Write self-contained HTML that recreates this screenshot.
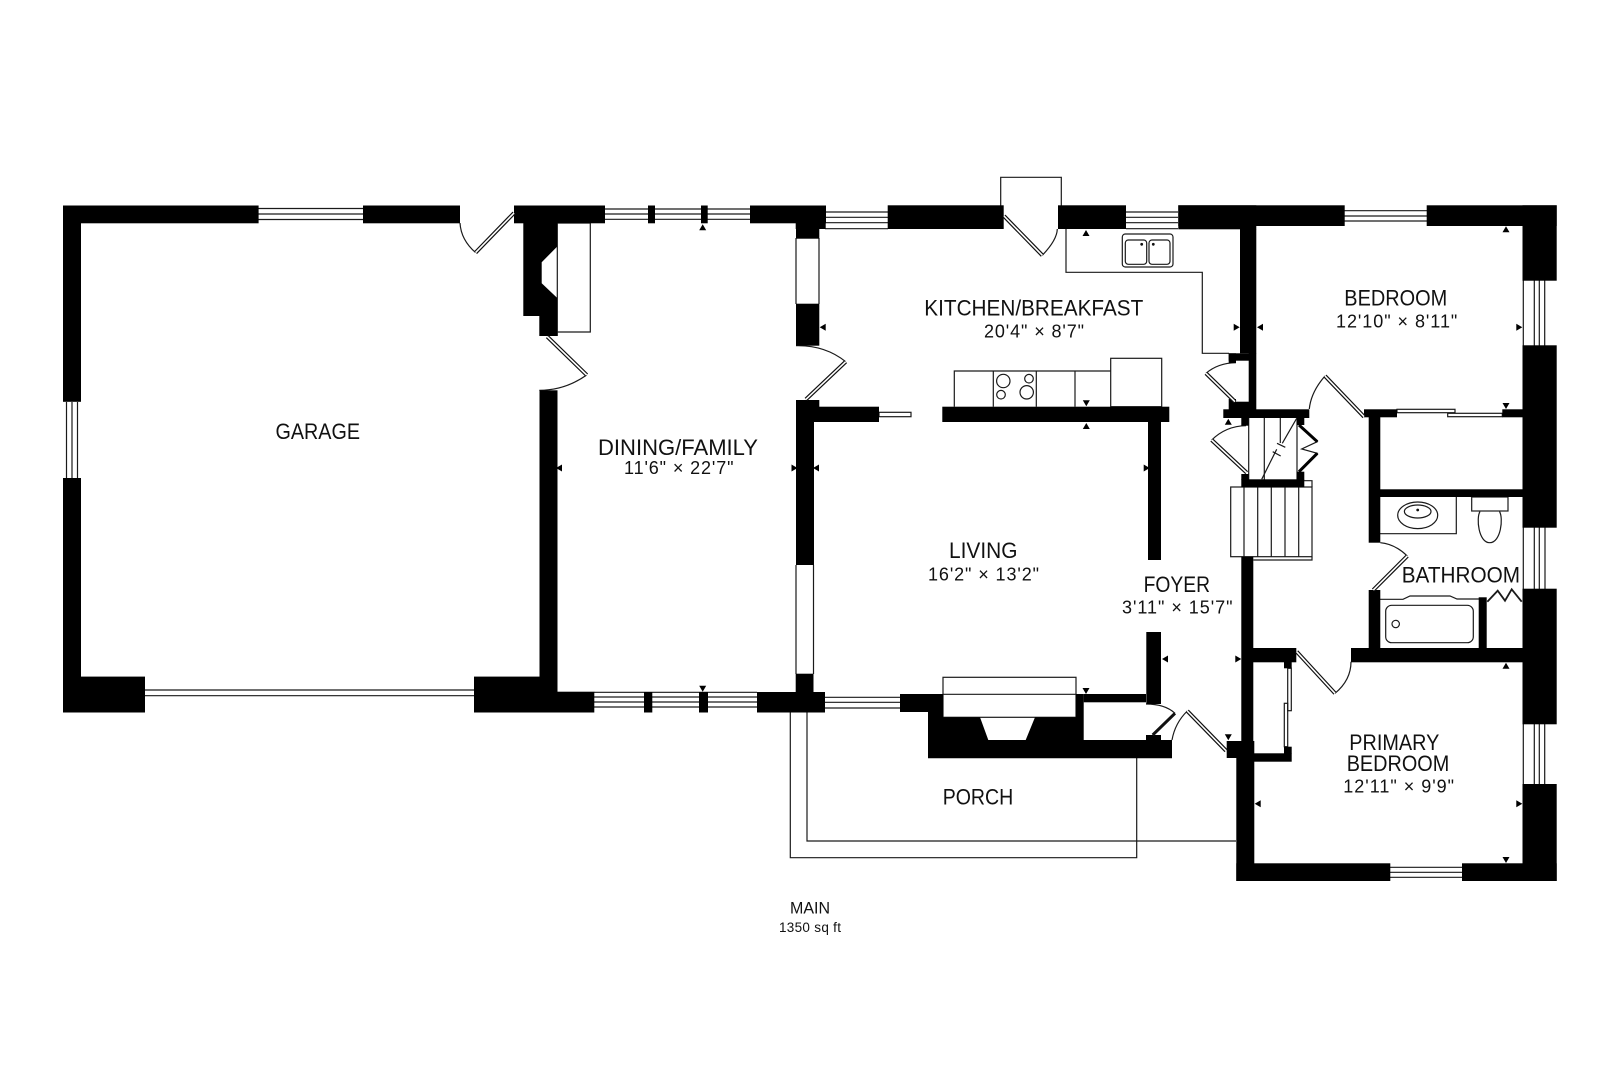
<!DOCTYPE html>
<html lang="en">
<head>
<meta charset="utf-8">
<title>Floor plan</title>
<style>
html,body{margin:0;padding:0;background:#fff}
svg{display:block}
text{font-family:"Liberation Sans",sans-serif;fill:#111}
.n{font-size:22px}
.d{font-size:18px}
.l{fill:none;stroke:#1a1a1a;stroke-width:1.2}
.o{fill:none;stroke:#111;stroke-width:4}
.w{fill:none;stroke:#fff;stroke-width:1.6}
</style>
</head>
<body>
<svg width="1620" height="1080" viewBox="0 0 1620 1080" xmlns="http://www.w3.org/2000/svg">
<rect width="1620" height="1080" fill="#fff"/>

<!-- thin fixture lines -->
<g class="l">
<!-- window lines -->
<path d="M258 208.5H363M258 214H363M258 219.5H363"/>
<path d="M66.5 402V478M72 402V478M77.5 402V478"/>
<path d="M145 690H474M145 695.7H474"/>
<path d="M605 209H750M605 214H750M605 219.3H750"/>
<path d="M594 692.3H757M594 697H757M594 702H757M594 707H757"/>
<path d="M825 212H888M825 217.3H888M825 222.7H888M825 228.7H888"/>
<path d="M1126 212H1178M1126 217.3H1178M1126 222.7H1178M1126 228.7H1178"/>
<path d="M1344 210.7H1427M1344 216H1427M1344 221H1427"/>
<path d="M825 697.3H900M825 702.3H900M825 708H900"/>
<path d="M1390 867.3H1462M1390 872.3H1462M1390 877.3H1462"/>
<path d="M1523.3 280V346M1534.3 280V346M1539.3 280V346M1544.7 280V346"/>
<path d="M1523.3 527V589M1534.3 527V589M1539.3 527V589M1545 527V589"/>
<path d="M1523.3 724V784M1534.3 724V784M1539.3 724V784M1544.7 724V784"/>
<!-- interior glass panels -->
<path d="M796 238V304M819 238V304"/>
<path d="M796 565V674M813.5 565V674"/>
<rect x="879" y="412.3" width="32" height="4.4"/>
<!-- left fireplace hearth -->
<path d="M557.3 223V336M557 223H590.3V332H557"/>
<!-- exterior door box -->
<path d="M1000.7 206V177.3H1061.3V206"/>
<!-- kitchen counter -->
<path d="M1066 229V272.3H1202.3V353.3H1229"/>
<rect x="1122.3" y="234" width="50.7" height="33" rx="3"/>
<rect x="1125.3" y="240" width="21.4" height="24.3" rx="3"/>
<rect x="1149" y="240" width="21" height="24.3" rx="3"/>
<!-- cabinets and fridge -->
<path d="M954.3 406.7V371H1110.7M993.3 371V406.7M1036.3 371V406.7M1075 371V406.7"/>
<rect x="1110.7" y="358.3" width="51" height="48.4"/>
<circle cx="1003.3" cy="381" r="6.7"/>
<circle cx="1029" cy="378.7" r="4.3"/>
<circle cx="1001" cy="394.7" r="4.3"/>
<circle cx="1026.7" cy="392.3" r="6.7"/>
<!-- stairs -->
<path d="M1248.7 418V480M1264.3 418V480M1280.3 418V443M1297 418V480"/>
<path d="M1296.7 418.3L1282.3 443.3M1277 443.3L1285.3 447.3M1272.7 451.7L1280.7 456M1276.7 449.3L1261.7 479.3"/>
<rect x="1230.7" y="487" width="81.3" height="69.7"/>
<path d="M1244 487V556.7M1257.7 487V556.7M1271.3 487V556.7M1285 487V556.7M1298.7 487V556.7"/>
<path d="M1304 480.7H1312V487M1253.3 560H1312V556.7"/>
<!-- closet sliders -->
<rect x="1397" y="409.3" width="58" height="3.4"/>
<rect x="1447.7" y="413.3" width="54.6" height="3.4"/>
<rect x="1287.7" y="668.3" width="3.6" height="42.4"/>
<rect x="1284.3" y="703.3" width="3.4" height="43.4"/>
<!-- bathroom -->
<path d="M1380 533.7H1456.3V497"/>
<ellipse cx="1417.7" cy="515.3" rx="20" ry="13.3"/>
<ellipse cx="1417.7" cy="511.5" rx="13.3" ry="6.5"/>
<rect x="1471.7" y="497" width="36.3" height="14"/>
<path d="M1480 511.5C1476 518 1478.5 542.7 1489.7 542.7C1501 542.7 1503.5 518 1499.5 511.5"/>
<path d="M1380 599.3H1403L1410 596H1450L1457 599H1479"/>
<rect x="1385.7" y="605.3" width="87.6" height="37.4" rx="6"/>
<circle cx="1395.7" cy="624" r="3.7"/>
<path d="M1487.3 601.7L1497.7 590.7L1505 600.7L1511.7 589.3L1521.7 601.7" style="stroke-width:1.8"/>
<!-- south fireplace -->
<rect x="943" y="677.3" width="133" height="40"/>
<path d="M943 694.3H1076"/>
<!-- porch -->
<path d="M790.3 712V857.7H1136.7V758"/>
<path d="M807 712V841H1236"/>
<!-- door swings -->
<path d="M460 223Q461 240 475.6 252.6"/>
<path d="M586.7 375Q565 390.3 539.3 390.3"/>
<path d="M796 345.7Q825 345 845.7 361.7"/>
<path d="M1042.3 255.3Q1057 240 1057.3 229"/>
<path d="M1236 362.7Q1218 363 1206 373.3"/>
<path d="M1246 425.7Q1226 426 1211.7 440"/>
<path d="M1309.3 409Q1311 392 1325 376"/>
<path d="M1380.3 542.7Q1395 544 1407.3 556"/>
<path d="M1335 693.3Q1351 680 1351 661.7"/>
<path d="M1146 704Q1165 704 1175 713.3"/>
<path d="M1172 740Q1175 723 1187.3 711"/>
<path d="M1299 425L1317.3 441.7L1301.7 449L1317.3 453.3L1299 471.7"/>
</g>
<circle cx="1141.7" cy="244.3" r="1.4" fill="#111"/>
<circle cx="1153.3" cy="244.3" r="1.4" fill="#111"/>
<circle cx="1417.7" cy="510" r="1.4" fill="#111"/>

<!-- walls -->
<g fill="#000">
<!-- garage -->
<rect x="63" y="205.5" width="195.6" height="17.8"/>
<rect x="363" y="205.5" width="97" height="17.8"/>
<rect x="63" y="205.5" width="18" height="196.3"/>
<rect x="63" y="478" width="18" height="234.5"/>
<rect x="63" y="676.6" width="82" height="35.9"/>
<rect x="474" y="676.6" width="83.5" height="35.9"/>
<!-- west fireplace / dining -->
<rect x="514" y="205.5" width="91" height="17.8"/>
<path d="M523.3 223H557V246.7L541.7 262.3V283.3L557 297.7V336H539.3V316H523.3Z"/>
<rect x="539.5" y="390.3" width="18" height="300"/>
<rect x="557" y="691.7" width="37.3" height="20.8"/>
<rect x="648" y="205.5" width="7" height="17.8"/>
<rect x="701" y="205.5" width="6.7" height="17.8"/>
<rect x="644" y="692" width="8.3" height="20.5"/>
<rect x="699" y="692" width="9" height="20.5"/>
<rect x="750" y="205.5" width="76" height="17.8"/>
<rect x="795.7" y="205.5" width="30" height="23.5"/>
<rect x="796" y="223" width="23.3" height="15.7"/>
<rect x="796" y="303.7" width="23.3" height="42"/>
<rect x="796" y="400" width="23.3" height="22"/>
<rect x="796" y="400" width="18" height="165"/>
<rect x="814" y="406.7" width="65" height="15.3"/>
<rect x="757" y="692" width="68" height="20.5"/>
<rect x="795.7" y="673.7" width="17.8" height="30"/>
<!-- north wall -->
<rect x="887.7" y="205.3" width="116" height="23.7"/>
<rect x="1058" y="205.3" width="68" height="23.7"/>
<rect x="1178.3" y="205.3" width="166.4" height="20.7"/>
<rect x="1178.3" y="205.3" width="78" height="24"/>
<rect x="1426.7" y="205.3" width="130" height="20.7"/>
<!-- east wall -->
<rect x="1522.5" y="205.3" width="34.2" height="75.4"/>
<rect x="1522.5" y="345.3" width="34.2" height="182.4"/>
<rect x="1522.5" y="588.7" width="34.2" height="135.6"/>
<rect x="1522.5" y="784" width="34.2" height="97"/>
<!-- bedroom west / kitchen east -->
<rect x="1240" y="229" width="16.3" height="124.3"/>
<rect x="1248.7" y="353" width="7.6" height="57"/>
<rect x="1228.7" y="353.3" width="27" height="7.4"/>
<rect x="1228.7" y="353.3" width="7.3" height="9.7"/>
<rect x="1228.7" y="399" width="7.3" height="10.5"/>
<rect x="1236" y="401.7" width="15" height="8"/>
<rect x="1223.3" y="409.3" width="86" height="8.7"/>
<!-- kitchen peninsula -->
<rect x="942.3" y="406.7" width="227" height="15.3"/>
<rect x="1148" y="420" width="13" height="140"/>
<rect x="1146.3" y="632" width="14.7" height="72"/>
<!-- stairs -->
<rect x="1241.3" y="418" width="7.4" height="7.7"/>
<rect x="1297" y="418" width="7.3" height="7"/>
<rect x="1241.3" y="474" width="7.4" height="6"/>
<rect x="1297" y="471.7" width="7.3" height="8"/>
<rect x="1241.3" y="479.3" width="63" height="8"/>
<!-- foyer wall -->
<rect x="1241.3" y="556.7" width="12" height="190"/>
<rect x="1253" y="648" width="43.3" height="14.3"/>
<rect x="1284" y="662" width="7.7" height="6.3"/>
<rect x="1284" y="746.7" width="7.7" height="7"/>
<rect x="1254" y="753.3" width="37.7" height="8.4"/>
<rect x="1226.7" y="741" width="27.6" height="17"/>
<rect x="1236.3" y="758" width="18" height="123"/>
<rect x="1236.3" y="863.3" width="154" height="17.7"/>
<rect x="1462" y="863.3" width="94.7" height="17.7"/>
<!-- bedroom / bath partitions -->
<rect x="1364" y="409.3" width="33" height="8"/>
<rect x="1502.3" y="409.3" width="20.4" height="8"/>
<rect x="1368.7" y="417" width="11.6" height="125.7"/>
<rect x="1380" y="489.3" width="143" height="7.7"/>
<rect x="1368.7" y="590" width="11.6" height="58"/>
<rect x="1478.7" y="597.3" width="8" height="51"/>
<rect x="1351" y="648" width="172" height="14.3"/>
<!-- south fireplace mass -->
<rect x="900" y="694" width="43" height="18"/>
<path d="M928 694H943V717.3H980L988.3 740H1025.7L1035 717.3H1076V694H1083.7V740H1172V758.3H928Z"/>
<rect x="1083.7" y="694" width="62.3" height="8.3"/>
<rect x="1146" y="735" width="15" height="5"/>
<!-- dimension arrowheads -->
<path d="M699.2 230.3h7l-3.5-6zM1082.5 236h7l-3.5-6zM1082.8 429h7l-3.5-6zM1224.8 424.7h7l-3.5-6zM1502.5 232.3h7l-3.5-6zM1502.5 668.7h7l-3.5-6z"/>
<path d="M1082.8 400.3h7l-3.5 6zM1502.5 403h7l-3.5 6zM1502.5 857h7l-3.5 6zM1224.8 734.3h7l-3.5 6zM1082.5 688h7l-3.5 6zM699.2 685.7h7l-3.5 6z"/>
<path d="M1233.7 323.8v7l6-3.5zM1516.3 323.8v7l6-3.5zM1235.3 655.5v7l6-3.5zM1516.3 800.2v7l6-3.5zM791.5 464.5v7l6-3.5zM1143.7 464.5v7l6-3.5z"/>
<path d="M825.7 323.8v7l-6-3.5zM1263 323.8v7l-6-3.5zM1260.7 800.2v7l-6-3.5zM1168 655.5v7l-6-3.5zM562 464.5v7l-6-3.5zM819 464.5v7l-6-3.5z"/>
</g>

<!-- door leaves -->
<path class="o" d="M475.6 252.6L514 213M547.3 336.7L586.7 375M845.7 361.7L806 399.3M1004 216L1042.3 255.3M1206 373.3L1235 401.7M1211.7 440L1246.7 472.7M1325 376L1364 416.7M1407.3 556L1373.3 590M1296.7 651.7L1335 693.3M1187.3 711L1226 750.7"/>
<path class="w" d="M475.6 252.6L514 213M547.3 336.7L586.7 375M845.7 361.7L806 399.3M1004 216L1042.3 255.3M1206 373.3L1235 401.7M1211.7 440L1246.7 472.7M1325 376L1364 416.7M1407.3 556L1373.3 590M1296.7 651.7L1335 693.3M1187.3 711L1226 750.7"/>
<path d="M1175 713.3L1152.7 735" fill="none" stroke="#111" stroke-width="3"/>
<path d="M1299 425L1317.3 441.7M1317.3 453.3L1299 471.7" fill="none" stroke="#000" stroke-width="3"/>

<!-- labels -->
<text class="n" x="275.5" y="439" textLength="84.5" lengthAdjust="spacingAndGlyphs">GARAGE</text>
<text class="n" x="598" y="455" textLength="160" lengthAdjust="spacingAndGlyphs">DINING/FAMILY</text>
<text class="d" x="624" y="474" textLength="109.5" lengthAdjust="spacing">11'6" × 22'7"</text>
<text class="n" x="924.3" y="315.7" textLength="219" lengthAdjust="spacingAndGlyphs">KITCHEN/BREAKFAST</text>
<text class="d" x="984" y="337.7" textLength="100" lengthAdjust="spacing">20'4" × 8'7"</text>
<text class="n" x="949" y="558" textLength="68.5" lengthAdjust="spacingAndGlyphs">LIVING</text>
<text class="d" x="928" y="580.5" textLength="111" lengthAdjust="spacing">16'2" × 13'2"</text>
<text class="n" x="1143.6" y="592" textLength="66.4" lengthAdjust="spacingAndGlyphs">FOYER</text>
<text class="d" x="1122" y="613.3" textLength="110.5" lengthAdjust="spacing">3'11" × 15'7"</text>
<text class="n" x="1344.3" y="305.7" textLength="103" lengthAdjust="spacingAndGlyphs">BEDROOM</text>
<text class="d" x="1336" y="327.3" textLength="121.3" lengthAdjust="spacing">12'10" × 8'11"</text>
<text class="n" x="1401.7" y="582.7" textLength="118.3" lengthAdjust="spacingAndGlyphs">BATHROOM</text>
<text class="n" x="1349.3" y="750" textLength="90" lengthAdjust="spacingAndGlyphs">PRIMARY</text>
<text class="n" x="1346.7" y="771" textLength="102.6" lengthAdjust="spacingAndGlyphs">BEDROOM</text>
<text class="d" x="1343.3" y="792.7" textLength="110.7" lengthAdjust="spacing">12'11" × 9'9"</text>
<text class="n" x="942.7" y="804.3" textLength="70.6" lengthAdjust="spacingAndGlyphs">PORCH</text>
<text x="790" y="913.3" font-size="17" textLength="40" lengthAdjust="spacingAndGlyphs">MAIN</text>
<text x="779" y="932" font-size="13.5" textLength="62" lengthAdjust="spacing">1350 sq ft</text>
</svg>
</body>
</html>
